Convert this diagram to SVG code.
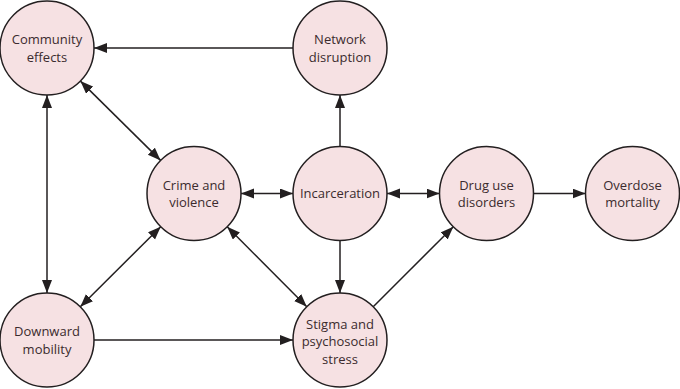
<svg xmlns="http://www.w3.org/2000/svg" width="680" height="389" viewBox="0 0 680 389">
  <defs>
    <marker id="arr" markerUnits="userSpaceOnUse" markerWidth="14" markerHeight="11" refX="13" refY="5" orient="auto-start-reverse">
      <path d="M0,0 L13,5 L0,10 z" fill="#231f20"/>
    </marker>
    <style>
      .node circle { fill: #f6e1e3; stroke: #231f20; stroke-width: 1.5; }
      .node text { font-family: "Open Sans", "Liberation Sans", sans-serif; font-size: 13px; fill: #3b2b2e; text-anchor: middle; }
      .edges line { stroke: #231f20; stroke-width: 1.5; fill: none; }
      .one { marker-end: url(#arr); }
      .two { marker-start: url(#arr); marker-end: url(#arr); }
    </style>
  </defs>
  <rect width="680" height="389" fill="#ffffff"/>
  <g class="edges">
    <line class="one" x1="293" y1="48" x2="94" y2="48"/>
    <line class="one" x1="340" y1="146.5" x2="340" y2="95"/>
    <line class="two" x1="80.4" y1="81.1" x2="160.6" y2="160.4"/>
    <line class="two" x1="47" y1="95" x2="47" y2="293"/>
    <line class="two" x1="241" y1="193.5" x2="293" y2="193.5"/>
    <line class="two" x1="387" y1="193.5" x2="439.5" y2="193.5"/>
    <line class="one" x1="533.5" y1="193.5" x2="585.5" y2="193.5"/>
    <line class="one" x1="340" y1="240.5" x2="340" y2="293"/>
    <line class="two" x1="160.7" y1="226.7" x2="80.3" y2="306.8"/>
    <line class="two" x1="227.2" y1="226.8" x2="306.8" y2="306.7"/>
    <line class="one" x1="94" y1="340" x2="293" y2="340"/>
    <line class="one" x1="373.2" y1="306.8" x2="453.3" y2="226.7"/>
  </g>
  <g id="community-effects" class="node">
    <circle cx="47" cy="48" r="47"/>
    <text x="47" y="44">Community</text>
    <text x="47" y="61.5">effects</text>
  </g>
  <g id="network-disruption" class="node">
    <circle cx="340" cy="48" r="47"/>
    <text x="340" y="44">Network</text>
    <text x="340" y="61.5">disruption</text>
  </g>
  <g id="crime-and-violence" class="node">
    <circle cx="194" cy="193.5" r="47"/>
    <text x="194" y="189.5">Crime and</text>
    <text x="194" y="207">violence</text>
  </g>
  <g id="incarceration" class="node">
    <circle cx="340" cy="193.5" r="47"/>
    <text x="340" y="198">Incarceration</text>
  </g>
  <g id="drug-use-disorders" class="node">
    <circle cx="486.5" cy="193.5" r="47"/>
    <text x="486.5" y="189.5">Drug use</text>
    <text x="486.5" y="207">disorders</text>
  </g>
  <g id="overdose-mortality" class="node">
    <circle cx="632.5" cy="193.5" r="47"/>
    <text x="632.5" y="189.5">Overdose</text>
    <text x="632.5" y="207">mortality</text>
  </g>
  <g id="downward-mobility" class="node">
    <circle cx="47" cy="340" r="47"/>
    <text x="47" y="336">Downward</text>
    <text x="47" y="353.5">mobility</text>
  </g>
  <g id="stigma" class="node">
    <circle cx="340" cy="340" r="47"/>
    <text x="340" y="328.5">Stigma and</text>
    <text x="340" y="346">psychosocial</text>
    <text x="340" y="363.5">stress</text>
  </g>
</svg>
